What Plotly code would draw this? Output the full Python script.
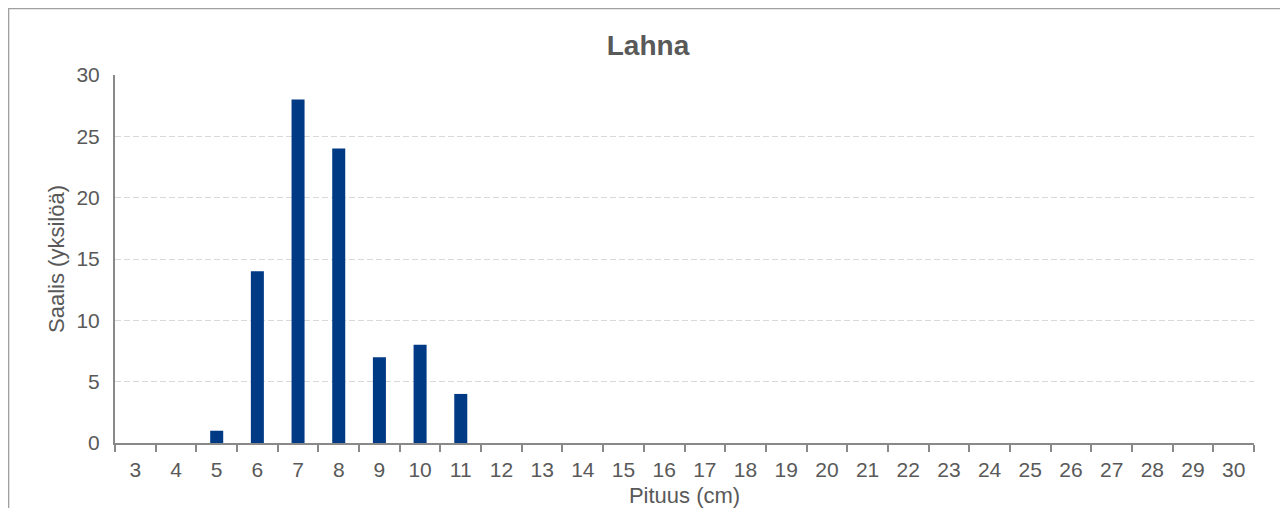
import plotly.graph_objects as go

# pituusluokat (cm) ja saalis
pituus = [str(p) for p in range(3, 31)]
saalis = [0, 0, 1, 14, 28, 24, 7, 8, 4, 0, 0, 0, 0, 0,
          0, 0, 0, 0, 0, 0, 0, 0, 0, 0, 0, 0, 0, 0]

fig = go.Figure(go.Bar(
    x=pituus,
    y=saalis,
    marker=dict(color="#003984", line=dict(width=0)),
))

fig.update_layout(
    width=1280,
    height=500,
    paper_bgcolor="white",
    plot_bgcolor="white",
    margin=dict(l=107, r=34, t=67, b=65),
    bargap=0.68,
    showlegend=False,
    font=dict(family="Liberation Sans, Arial", color="#595959", size=21),
    title=dict(
        text="<b>Lahna</b>",
        x=0.5, xanchor="center",
        xref="container",
        y=0.926, yanchor="middle",
        font=dict(size=28, color="#595959"),
    ),
)

fig.update_xaxes(
    type="category",
    automargin=False,
    title=dict(text="Pituus (cm)", font=dict(size=22), standoff=11),
    showline=True, linecolor="#898989", linewidth=2,
    ticks="outside", tickson="boundaries", ticklen=7,
    tickcolor="#898989", tickwidth=2,
    ticklabelstandoff=7,
    showgrid=False,
)

fig.update_yaxes(
    range=[0, 30],
    dtick=5,
    automargin=False,
    title=dict(text="Saalis (yksilöä)", font=dict(size=22), standoff=6),
    showline=True, linecolor="#898989", linewidth=2,
    ticks="",
    ticklabelstandoff=9,
    showgrid=True, gridcolor="#d9d9d9", griddash="6px,3px", gridwidth=1,
    zeroline=False,
)

# kehys kaavion ympärillä
fig.add_shape(
    type="rect", xref="paper", yref="paper",
    x0=-107 / 1139 + 0.0005, x1=1 + 33 / 1139, y0=-0.4, y1=1 + 66.5 / 368,
    line=dict(color="#a0a0a0", width=1.5),
    layer="below",
)

fig.write_html("out.html")
